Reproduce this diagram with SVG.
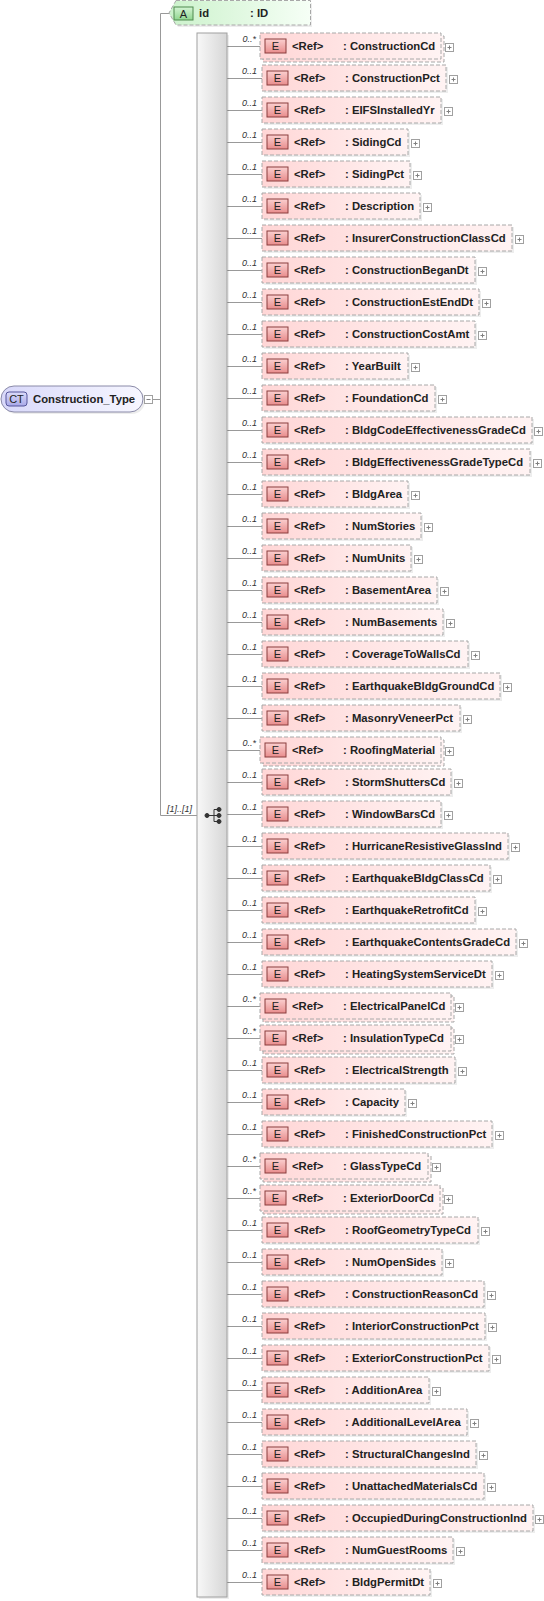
<svg xmlns="http://www.w3.org/2000/svg" xmlns:xlink="http://www.w3.org/1999/xlink" width="544" height="1601" viewBox="0 0 544 1601">
<defs>
<linearGradient id="gEl" x1="0" y1="0" x2="1" y2="0"><stop offset="0" stop-color="#ffd6d6"/><stop offset="1" stop-color="#fff3f3"/></linearGradient>
<linearGradient id="gEi" x1="0" y1="0" x2="0" y2="1"><stop offset="0" stop-color="#fbd0d0"/><stop offset="1" stop-color="#e88c8c"/></linearGradient>
<linearGradient id="gAt" x1="0" y1="0" x2="1" y2="0"><stop offset="0" stop-color="#ccf2cc"/><stop offset="1" stop-color="#f6fff6"/></linearGradient>
<linearGradient id="gAi" x1="0" y1="0" x2="0" y2="1"><stop offset="0" stop-color="#d4f4d4"/><stop offset="1" stop-color="#8fd68f"/></linearGradient>
<linearGradient id="gCt" x1="0" y1="0" x2="1" y2="0"><stop offset="0" stop-color="#d8d8fa"/><stop offset="1" stop-color="#f7f7ff"/></linearGradient>
<linearGradient id="gCi" x1="0" y1="0" x2="0" y2="1"><stop offset="0" stop-color="#dcdcfa"/><stop offset="1" stop-color="#a8a8e8"/></linearGradient>
<linearGradient id="gSeq" x1="0" y1="0" x2="1" y2="0"><stop offset="0" stop-color="#f8f8f8"/><stop offset="1" stop-color="#d6d6d6"/></linearGradient>
<symbol id="plus" viewBox="0 0 9 9" width="9" height="9"><rect x="0.5" y="0.5" width="8" height="8" fill="#fff" stroke="#a0a0a0"/><path d="M2.5 4.5h4M4.5 2.5v4" stroke="#808080" fill="none"/></symbol>
<symbol id="minus" viewBox="0 0 9 9" width="9" height="9"><rect x="0.5" y="0.5" width="8" height="8" fill="#fff" stroke="#a0a0a0"/><path d="M2.5 4.5h4" stroke="#808080" fill="none"/></symbol>
</defs>
<style>
.box{fill:url(#gEl);stroke:#a8a8a8;stroke-width:1;stroke-dasharray:4 2}
.sh{fill:#000;opacity:0.07}
.eic{fill:url(#gEi);stroke:#8a3c3c;stroke-width:1}
.eit{font-family:"Liberation Sans",Arial,sans-serif;font-size:11px;fill:#222;text-anchor:middle}
.t{font-family:"Liberation Sans",Arial,sans-serif;font-size:11.3px;font-weight:bold;fill:#222}
.card{font-family:"Liberation Sans",Arial,sans-serif;font-size:9px;font-style:italic;fill:#333;text-anchor:end}
.ln{stroke:#999;stroke-width:1;fill:none}
</style>

<g id="connectors">
<path class="ln" d="M152.5 399.5H160.5M160.5 13.5V815.5M160.5 13.5H169M160.5 815.5H197"/>
<text class="card" x="192" y="812">[1]..[1]</text>
<path class="ln" d="M227 46.5H260M227 78.5H262M227 110.5H262M227 142.5H262M227 174.5H262M227 206.5H262M227 238.5H262M227 270.5H262M227 302.5H262M227 334.5H262M227 366.5H262M227 398.5H262M227 430.5H262M227 462.5H262M227 494.5H262M227 526.5H262M227 558.5H262M227 590.5H262M227 622.5H262M227 654.5H262M227 686.5H262M227 718.5H262M227 750.5H260M227 782.5H262M227 814.5H262M227 846.5H262M227 878.5H262M227 910.5H262M227 942.5H262M227 974.5H262M227 1006.5H260M227 1038.5H260M227 1070.5H262M227 1102.5H262M227 1134.5H262M227 1166.5H260M227 1198.5H260M227 1230.5H262M227 1262.5H262M227 1294.5H262M227 1326.5H262M227 1358.5H262M227 1390.5H262M227 1422.5H262M227 1454.5H262M227 1486.5H262M227 1518.5H262M227 1550.5H262M227 1582.5H262"/>
<text class="card" x="256" y="42">0..*</text>
<text class="card" x="257" y="74">0..1</text>
<text class="card" x="257" y="106">0..1</text>
<text class="card" x="257" y="138">0..1</text>
<text class="card" x="257" y="170">0..1</text>
<text class="card" x="257" y="202">0..1</text>
<text class="card" x="257" y="234">0..1</text>
<text class="card" x="257" y="266">0..1</text>
<text class="card" x="257" y="298">0..1</text>
<text class="card" x="257" y="330">0..1</text>
<text class="card" x="257" y="362">0..1</text>
<text class="card" x="257" y="394">0..1</text>
<text class="card" x="257" y="426">0..1</text>
<text class="card" x="257" y="458">0..1</text>
<text class="card" x="257" y="490">0..1</text>
<text class="card" x="257" y="522">0..1</text>
<text class="card" x="257" y="554">0..1</text>
<text class="card" x="257" y="586">0..1</text>
<text class="card" x="257" y="618">0..1</text>
<text class="card" x="257" y="650">0..1</text>
<text class="card" x="257" y="682">0..1</text>
<text class="card" x="257" y="714">0..1</text>
<text class="card" x="256" y="746">0..*</text>
<text class="card" x="257" y="778">0..1</text>
<text class="card" x="257" y="810">0..1</text>
<text class="card" x="257" y="842">0..1</text>
<text class="card" x="257" y="874">0..1</text>
<text class="card" x="257" y="906">0..1</text>
<text class="card" x="257" y="938">0..1</text>
<text class="card" x="257" y="970">0..1</text>
<text class="card" x="256" y="1002">0..*</text>
<text class="card" x="256" y="1034">0..*</text>
<text class="card" x="257" y="1066">0..1</text>
<text class="card" x="257" y="1098">0..1</text>
<text class="card" x="257" y="1130">0..1</text>
<text class="card" x="256" y="1162">0..*</text>
<text class="card" x="256" y="1194">0..*</text>
<text class="card" x="257" y="1226">0..1</text>
<text class="card" x="257" y="1258">0..1</text>
<text class="card" x="257" y="1290">0..1</text>
<text class="card" x="257" y="1322">0..1</text>
<text class="card" x="257" y="1354">0..1</text>
<text class="card" x="257" y="1386">0..1</text>
<text class="card" x="257" y="1418">0..1</text>
<text class="card" x="257" y="1450">0..1</text>
<text class="card" x="257" y="1482">0..1</text>
<text class="card" x="257" y="1514">0..1</text>
<text class="card" x="257" y="1546">0..1</text>
<text class="card" x="257" y="1578">0..1</text>
</g>

<g id="Construction_Type">
<rect class="sh" x="3" y="388" width="142" height="26" rx="13"/>
<rect x="1" y="386" width="142" height="26" rx="13" fill="url(#gCt)" stroke="#8a8aa8"/>
<rect x="6" y="392" width="21" height="14" rx="3" fill="url(#gCi)" stroke="#55559a"/>
<text x="16.5" y="403" font-family="Liberation Sans, Arial, sans-serif" font-size="11" fill="#222" text-anchor="middle">CT</text>
<text class="t" x="33" y="403">Construction_Type</text>
<use xlink:href="#minus" href="#minus" x="144" y="395"/>
</g>

<g id="attr-id">
<path class="sh" d="M178 3H312V27H178L171 15Z"/>
<path d="M176 0.5H310.5V25H176L169 13Z" fill="url(#gAt)" stroke="#a8a8a8" stroke-dasharray="4 2"/>
<rect x="174" y="7" width="19" height="13" fill="url(#gAi)" stroke="#4f8a4f"/>
<text x="183.5" y="17.5" font-family="Liberation Sans, Arial, sans-serif" font-size="11" fill="#222" text-anchor="middle">A</text>
<text class="t" x="199" y="17">id</text>
<text class="t" x="250" y="17">: ID</text>
</g>

<g id="sequence">
<rect class="sh" x="199" y="35" width="30" height="1564"/>
<rect x="197" y="33" width="30" height="1564" fill="url(#gSeq)" stroke="#a0a0a0"/>
<g fill="#333" stroke="#333">
<path d="M207 815.5H214M214 809.5V821.5M214 809.5H218M214 815.5H218M214 821.5H218" fill="none"/>
<circle cx="207" cy="815.5" r="2"/>
<circle cx="219" cy="809.5" r="2"/>
<circle cx="219" cy="815.5" r="2"/>
<circle cx="219" cy="821.5" r="2"/>
</g>
</g>

<g id="el-ConstructionCd"><rect class="box" x="263" y="36" width="181" height="26"/><rect class="box" x="260" y="33" width="181" height="26"/><rect class="eic" x="265" y="39" width="21" height="14"/><text class="eit" x="275.5" y="50">E</text><text class="t" x="292" y="50">&lt;Ref&gt;</text><text class="t" x="343" y="50">: ConstructionCd</text><use xlink:href="#plus" href="#plus" x="445" y="43"/></g>
<g id="el-ConstructionPct"><rect class="sh" x="264" y="67" width="184" height="26"/><rect class="box" x="262" y="65" width="184" height="26"/><rect class="eic" x="267" y="71" width="21" height="14"/><text class="eit" x="277.5" y="82">E</text><text class="t" x="294" y="82">&lt;Ref&gt;</text><text class="t" x="345" y="82">: ConstructionPct</text><use xlink:href="#plus" href="#plus" x="449" y="75"/></g>
<g id="el-EIFSInstalledYr"><rect class="sh" x="264" y="99" width="179" height="26"/><rect class="box" x="262" y="97" width="179" height="26"/><rect class="eic" x="267" y="103" width="21" height="14"/><text class="eit" x="277.5" y="114">E</text><text class="t" x="294" y="114">&lt;Ref&gt;</text><text class="t" x="345" y="114">: EIFSInstalledYr</text><use xlink:href="#plus" href="#plus" x="444" y="107"/></g>
<g id="el-SidingCd"><rect class="sh" x="264" y="131" width="146" height="26"/><rect class="box" x="262" y="129" width="146" height="26"/><rect class="eic" x="267" y="135" width="21" height="14"/><text class="eit" x="277.5" y="146">E</text><text class="t" x="294" y="146">&lt;Ref&gt;</text><text class="t" x="345" y="146">: SidingCd</text><use xlink:href="#plus" href="#plus" x="411" y="139"/></g>
<g id="el-SidingPct"><rect class="sh" x="264" y="163" width="148" height="26"/><rect class="box" x="262" y="161" width="148" height="26"/><rect class="eic" x="267" y="167" width="21" height="14"/><text class="eit" x="277.5" y="178">E</text><text class="t" x="294" y="178">&lt;Ref&gt;</text><text class="t" x="345" y="178">: SidingPct</text><use xlink:href="#plus" href="#plus" x="413" y="171"/></g>
<g id="el-Description"><rect class="sh" x="264" y="195" width="158" height="26"/><rect class="box" x="262" y="193" width="158" height="26"/><rect class="eic" x="267" y="199" width="21" height="14"/><text class="eit" x="277.5" y="210">E</text><text class="t" x="294" y="210">&lt;Ref&gt;</text><text class="t" x="345" y="210">: Description</text><use xlink:href="#plus" href="#plus" x="423" y="203"/></g>
<g id="el-InsurerConstructionClassCd"><rect class="sh" x="264" y="227" width="250" height="26"/><rect class="box" x="262" y="225" width="250" height="26"/><rect class="eic" x="267" y="231" width="21" height="14"/><text class="eit" x="277.5" y="242">E</text><text class="t" x="294" y="242">&lt;Ref&gt;</text><text class="t" x="345" y="242">: InsurerConstructionClassCd</text><use xlink:href="#plus" href="#plus" x="515" y="235"/></g>
<g id="el-ConstructionBeganDt"><rect class="sh" x="264" y="259" width="213" height="26"/><rect class="box" x="262" y="257" width="213" height="26"/><rect class="eic" x="267" y="263" width="21" height="14"/><text class="eit" x="277.5" y="274">E</text><text class="t" x="294" y="274">&lt;Ref&gt;</text><text class="t" x="345" y="274">: ConstructionBeganDt</text><use xlink:href="#plus" href="#plus" x="478" y="267"/></g>
<g id="el-ConstructionEstEndDt"><rect class="sh" x="264" y="291" width="217" height="26"/><rect class="box" x="262" y="289" width="217" height="26"/><rect class="eic" x="267" y="295" width="21" height="14"/><text class="eit" x="277.5" y="306">E</text><text class="t" x="294" y="306">&lt;Ref&gt;</text><text class="t" x="345" y="306">: ConstructionEstEndDt</text><use xlink:href="#plus" href="#plus" x="482" y="299"/></g>
<g id="el-ConstructionCostAmt"><rect class="sh" x="264" y="323" width="213" height="26"/><rect class="box" x="262" y="321" width="213" height="26"/><rect class="eic" x="267" y="327" width="21" height="14"/><text class="eit" x="277.5" y="338">E</text><text class="t" x="294" y="338">&lt;Ref&gt;</text><text class="t" x="345" y="338">: ConstructionCostAmt</text><use xlink:href="#plus" href="#plus" x="478" y="331"/></g>
<g id="el-YearBuilt"><rect class="sh" x="264" y="355" width="146" height="26"/><rect class="box" x="262" y="353" width="146" height="26"/><rect class="eic" x="267" y="359" width="21" height="14"/><text class="eit" x="277.5" y="370">E</text><text class="t" x="294" y="370">&lt;Ref&gt;</text><text class="t" x="345" y="370">: YearBuilt</text><use xlink:href="#plus" href="#plus" x="411" y="363"/></g>
<g id="el-FoundationCd"><rect class="sh" x="264" y="387" width="173" height="26"/><rect class="box" x="262" y="385" width="173" height="26"/><rect class="eic" x="267" y="391" width="21" height="14"/><text class="eit" x="277.5" y="402">E</text><text class="t" x="294" y="402">&lt;Ref&gt;</text><text class="t" x="345" y="402">: FoundationCd</text><use xlink:href="#plus" href="#plus" x="438" y="395"/></g>
<g id="el-BldgCodeEffectivenessGradeCd"><rect class="sh" x="264" y="419" width="270" height="26"/><rect class="box" x="262" y="417" width="270" height="26"/><rect class="eic" x="267" y="423" width="21" height="14"/><text class="eit" x="277.5" y="434">E</text><text class="t" x="294" y="434">&lt;Ref&gt;</text><text class="t" x="345" y="434">: BldgCodeEffectivenessGradeCd</text><use xlink:href="#plus" href="#plus" x="534" y="427"/></g>
<g id="el-BldgEffectivenessGradeTypeCd"><rect class="sh" x="264" y="451" width="268" height="26"/><rect class="box" x="262" y="449" width="268" height="26"/><rect class="eic" x="267" y="455" width="21" height="14"/><text class="eit" x="277.5" y="466">E</text><text class="t" x="294" y="466">&lt;Ref&gt;</text><text class="t" x="345" y="466">: BldgEffectivenessGradeTypeCd</text><use xlink:href="#plus" href="#plus" x="533" y="459"/></g>
<g id="el-BldgArea"><rect class="sh" x="264" y="483" width="146" height="26"/><rect class="box" x="262" y="481" width="146" height="26"/><rect class="eic" x="267" y="487" width="21" height="14"/><text class="eit" x="277.5" y="498">E</text><text class="t" x="294" y="498">&lt;Ref&gt;</text><text class="t" x="345" y="498">: BldgArea</text><use xlink:href="#plus" href="#plus" x="411" y="491"/></g>
<g id="el-NumStories"><rect class="sh" x="264" y="515" width="159" height="26"/><rect class="box" x="262" y="513" width="159" height="26"/><rect class="eic" x="267" y="519" width="21" height="14"/><text class="eit" x="277.5" y="530">E</text><text class="t" x="294" y="530">&lt;Ref&gt;</text><text class="t" x="345" y="530">: NumStories</text><use xlink:href="#plus" href="#plus" x="424" y="523"/></g>
<g id="el-NumUnits"><rect class="sh" x="264" y="547" width="149" height="26"/><rect class="box" x="262" y="545" width="149" height="26"/><rect class="eic" x="267" y="551" width="21" height="14"/><text class="eit" x="277.5" y="562">E</text><text class="t" x="294" y="562">&lt;Ref&gt;</text><text class="t" x="345" y="562">: NumUnits</text><use xlink:href="#plus" href="#plus" x="414" y="555"/></g>
<g id="el-BasementArea"><rect class="sh" x="264" y="579" width="175" height="26"/><rect class="box" x="262" y="577" width="175" height="26"/><rect class="eic" x="267" y="583" width="21" height="14"/><text class="eit" x="277.5" y="594">E</text><text class="t" x="294" y="594">&lt;Ref&gt;</text><text class="t" x="345" y="594">: BasementArea</text><use xlink:href="#plus" href="#plus" x="440" y="587"/></g>
<g id="el-NumBasements"><rect class="sh" x="264" y="611" width="181" height="26"/><rect class="box" x="262" y="609" width="181" height="26"/><rect class="eic" x="267" y="615" width="21" height="14"/><text class="eit" x="277.5" y="626">E</text><text class="t" x="294" y="626">&lt;Ref&gt;</text><text class="t" x="345" y="626">: NumBasements</text><use xlink:href="#plus" href="#plus" x="446" y="619"/></g>
<g id="el-CoverageToWallsCd"><rect class="sh" x="264" y="643" width="206" height="26"/><rect class="box" x="262" y="641" width="206" height="26"/><rect class="eic" x="267" y="647" width="21" height="14"/><text class="eit" x="277.5" y="658">E</text><text class="t" x="294" y="658">&lt;Ref&gt;</text><text class="t" x="345" y="658">: CoverageToWallsCd</text><use xlink:href="#plus" href="#plus" x="471" y="651"/></g>
<g id="el-EarthquakeBldgGroundCd"><rect class="sh" x="264" y="675" width="238" height="26"/><rect class="box" x="262" y="673" width="238" height="26"/><rect class="eic" x="267" y="679" width="21" height="14"/><text class="eit" x="277.5" y="690">E</text><text class="t" x="294" y="690">&lt;Ref&gt;</text><text class="t" x="345" y="690">: EarthquakeBldgGroundCd</text><use xlink:href="#plus" href="#plus" x="503" y="683"/></g>
<g id="el-MasonryVeneerPct"><rect class="sh" x="264" y="707" width="198" height="26"/><rect class="box" x="262" y="705" width="198" height="26"/><rect class="eic" x="267" y="711" width="21" height="14"/><text class="eit" x="277.5" y="722">E</text><text class="t" x="294" y="722">&lt;Ref&gt;</text><text class="t" x="345" y="722">: MasonryVeneerPct</text><use xlink:href="#plus" href="#plus" x="463" y="715"/></g>
<g id="el-RoofingMaterial"><rect class="box" x="263" y="740" width="181" height="26"/><rect class="box" x="260" y="737" width="181" height="26"/><rect class="eic" x="265" y="743" width="21" height="14"/><text class="eit" x="275.5" y="754">E</text><text class="t" x="292" y="754">&lt;Ref&gt;</text><text class="t" x="343" y="754">: RoofingMaterial</text><use xlink:href="#plus" href="#plus" x="445" y="747"/></g>
<g id="el-StormShuttersCd"><rect class="sh" x="264" y="771" width="189" height="26"/><rect class="box" x="262" y="769" width="189" height="26"/><rect class="eic" x="267" y="775" width="21" height="14"/><text class="eit" x="277.5" y="786">E</text><text class="t" x="294" y="786">&lt;Ref&gt;</text><text class="t" x="345" y="786">: StormShuttersCd</text><use xlink:href="#plus" href="#plus" x="454" y="779"/></g>
<g id="el-WindowBarsCd"><rect class="sh" x="264" y="803" width="179" height="26"/><rect class="box" x="262" y="801" width="179" height="26"/><rect class="eic" x="267" y="807" width="21" height="14"/><text class="eit" x="277.5" y="818">E</text><text class="t" x="294" y="818">&lt;Ref&gt;</text><text class="t" x="345" y="818">: WindowBarsCd</text><use xlink:href="#plus" href="#plus" x="444" y="811"/></g>
<g id="el-HurricaneResistiveGlassInd"><rect class="sh" x="264" y="835" width="246" height="26"/><rect class="box" x="262" y="833" width="246" height="26"/><rect class="eic" x="267" y="839" width="21" height="14"/><text class="eit" x="277.5" y="850">E</text><text class="t" x="294" y="850">&lt;Ref&gt;</text><text class="t" x="345" y="850">: HurricaneResistiveGlassInd</text><use xlink:href="#plus" href="#plus" x="511" y="843"/></g>
<g id="el-EarthquakeBldgClassCd"><rect class="sh" x="264" y="867" width="228" height="26"/><rect class="box" x="262" y="865" width="228" height="26"/><rect class="eic" x="267" y="871" width="21" height="14"/><text class="eit" x="277.5" y="882">E</text><text class="t" x="294" y="882">&lt;Ref&gt;</text><text class="t" x="345" y="882">: EarthquakeBldgClassCd</text><use xlink:href="#plus" href="#plus" x="493" y="875"/></g>
<g id="el-EarthquakeRetrofitCd"><rect class="sh" x="264" y="899" width="213" height="26"/><rect class="box" x="262" y="897" width="213" height="26"/><rect class="eic" x="267" y="903" width="21" height="14"/><text class="eit" x="277.5" y="914">E</text><text class="t" x="294" y="914">&lt;Ref&gt;</text><text class="t" x="345" y="914">: EarthquakeRetrofitCd</text><use xlink:href="#plus" href="#plus" x="478" y="907"/></g>
<g id="el-EarthquakeContentsGradeCd"><rect class="sh" x="264" y="931" width="254" height="26"/><rect class="box" x="262" y="929" width="254" height="26"/><rect class="eic" x="267" y="935" width="21" height="14"/><text class="eit" x="277.5" y="946">E</text><text class="t" x="294" y="946">&lt;Ref&gt;</text><text class="t" x="345" y="946">: EarthquakeContentsGradeCd</text><use xlink:href="#plus" href="#plus" x="519" y="939"/></g>
<g id="el-HeatingSystemServiceDt"><rect class="sh" x="264" y="963" width="230" height="26"/><rect class="box" x="262" y="961" width="230" height="26"/><rect class="eic" x="267" y="967" width="21" height="14"/><text class="eit" x="277.5" y="978">E</text><text class="t" x="294" y="978">&lt;Ref&gt;</text><text class="t" x="345" y="978">: HeatingSystemServiceDt</text><use xlink:href="#plus" href="#plus" x="495" y="971"/></g>
<g id="el-ElectricalPanelCd"><rect class="box" x="263" y="996" width="191" height="26"/><rect class="box" x="260" y="993" width="191" height="26"/><rect class="eic" x="265" y="999" width="21" height="14"/><text class="eit" x="275.5" y="1010">E</text><text class="t" x="292" y="1010">&lt;Ref&gt;</text><text class="t" x="343" y="1010">: ElectricalPanelCd</text><use xlink:href="#plus" href="#plus" x="455" y="1003"/></g>
<g id="el-InsulationTypeCd"><rect class="box" x="263" y="1028" width="191" height="26"/><rect class="box" x="260" y="1025" width="191" height="26"/><rect class="eic" x="265" y="1031" width="21" height="14"/><text class="eit" x="275.5" y="1042">E</text><text class="t" x="292" y="1042">&lt;Ref&gt;</text><text class="t" x="343" y="1042">: InsulationTypeCd</text><use xlink:href="#plus" href="#plus" x="455" y="1035"/></g>
<g id="el-ElectricalStrength"><rect class="sh" x="264" y="1059" width="193" height="26"/><rect class="box" x="262" y="1057" width="193" height="26"/><rect class="eic" x="267" y="1063" width="21" height="14"/><text class="eit" x="277.5" y="1074">E</text><text class="t" x="294" y="1074">&lt;Ref&gt;</text><text class="t" x="345" y="1074">: ElectricalStrength</text><use xlink:href="#plus" href="#plus" x="458" y="1067"/></g>
<g id="el-Capacity"><rect class="sh" x="264" y="1091" width="143" height="26"/><rect class="box" x="262" y="1089" width="143" height="26"/><rect class="eic" x="267" y="1095" width="21" height="14"/><text class="eit" x="277.5" y="1106">E</text><text class="t" x="294" y="1106">&lt;Ref&gt;</text><text class="t" x="345" y="1106">: Capacity</text><use xlink:href="#plus" href="#plus" x="408" y="1099"/></g>
<g id="el-FinishedConstructionPct"><rect class="sh" x="264" y="1123" width="230" height="26"/><rect class="box" x="262" y="1121" width="230" height="26"/><rect class="eic" x="267" y="1127" width="21" height="14"/><text class="eit" x="277.5" y="1138">E</text><text class="t" x="294" y="1138">&lt;Ref&gt;</text><text class="t" x="345" y="1138">: FinishedConstructionPct</text><use xlink:href="#plus" href="#plus" x="495" y="1131"/></g>
<g id="el-GlassTypeCd"><rect class="box" x="263" y="1156" width="168" height="26"/><rect class="box" x="260" y="1153" width="168" height="26"/><rect class="eic" x="265" y="1159" width="21" height="14"/><text class="eit" x="275.5" y="1170">E</text><text class="t" x="292" y="1170">&lt;Ref&gt;</text><text class="t" x="343" y="1170">: GlassTypeCd</text><use xlink:href="#plus" href="#plus" x="432" y="1163"/></g>
<g id="el-ExteriorDoorCd"><rect class="box" x="263" y="1188" width="180" height="26"/><rect class="box" x="260" y="1185" width="180" height="26"/><rect class="eic" x="265" y="1191" width="21" height="14"/><text class="eit" x="275.5" y="1202">E</text><text class="t" x="292" y="1202">&lt;Ref&gt;</text><text class="t" x="343" y="1202">: ExteriorDoorCd</text><use xlink:href="#plus" href="#plus" x="444" y="1195"/></g>
<g id="el-RoofGeometryTypeCd"><rect class="sh" x="264" y="1219" width="216" height="26"/><rect class="box" x="262" y="1217" width="216" height="26"/><rect class="eic" x="267" y="1223" width="21" height="14"/><text class="eit" x="277.5" y="1234">E</text><text class="t" x="294" y="1234">&lt;Ref&gt;</text><text class="t" x="345" y="1234">: RoofGeometryTypeCd</text><use xlink:href="#plus" href="#plus" x="481" y="1227"/></g>
<g id="el-NumOpenSides"><rect class="sh" x="264" y="1251" width="180" height="26"/><rect class="box" x="262" y="1249" width="180" height="26"/><rect class="eic" x="267" y="1255" width="21" height="14"/><text class="eit" x="277.5" y="1266">E</text><text class="t" x="294" y="1266">&lt;Ref&gt;</text><text class="t" x="345" y="1266">: NumOpenSides</text><use xlink:href="#plus" href="#plus" x="445" y="1259"/></g>
<g id="el-ConstructionReasonCd"><rect class="sh" x="264" y="1283" width="222" height="26"/><rect class="box" x="262" y="1281" width="222" height="26"/><rect class="eic" x="267" y="1287" width="21" height="14"/><text class="eit" x="277.5" y="1298">E</text><text class="t" x="294" y="1298">&lt;Ref&gt;</text><text class="t" x="345" y="1298">: ConstructionReasonCd</text><use xlink:href="#plus" href="#plus" x="487" y="1291"/></g>
<g id="el-InteriorConstructionPct"><rect class="sh" x="264" y="1315" width="223" height="26"/><rect class="box" x="262" y="1313" width="223" height="26"/><rect class="eic" x="267" y="1319" width="21" height="14"/><text class="eit" x="277.5" y="1330">E</text><text class="t" x="294" y="1330">&lt;Ref&gt;</text><text class="t" x="345" y="1330">: InteriorConstructionPct</text><use xlink:href="#plus" href="#plus" x="488" y="1323"/></g>
<g id="el-ExteriorConstructionPct"><rect class="sh" x="264" y="1347" width="227" height="26"/><rect class="box" x="262" y="1345" width="227" height="26"/><rect class="eic" x="267" y="1351" width="21" height="14"/><text class="eit" x="277.5" y="1362">E</text><text class="t" x="294" y="1362">&lt;Ref&gt;</text><text class="t" x="345" y="1362">: ExteriorConstructionPct</text><use xlink:href="#plus" href="#plus" x="492" y="1355"/></g>
<g id="el-AdditionArea"><rect class="sh" x="264" y="1379" width="167" height="26"/><rect class="box" x="262" y="1377" width="167" height="26"/><rect class="eic" x="267" y="1383" width="21" height="14"/><text class="eit" x="277.5" y="1394">E</text><text class="t" x="294" y="1394">&lt;Ref&gt;</text><text class="t" x="345" y="1394">: AdditionArea</text><use xlink:href="#plus" href="#plus" x="432" y="1387"/></g>
<g id="el-AdditionalLevelArea"><rect class="sh" x="264" y="1411" width="205" height="26"/><rect class="box" x="262" y="1409" width="205" height="26"/><rect class="eic" x="267" y="1415" width="21" height="14"/><text class="eit" x="277.5" y="1426">E</text><text class="t" x="294" y="1426">&lt;Ref&gt;</text><text class="t" x="345" y="1426">: AdditionalLevelArea</text><use xlink:href="#plus" href="#plus" x="470" y="1419"/></g>
<g id="el-StructuralChangesInd"><rect class="sh" x="264" y="1443" width="214" height="26"/><rect class="box" x="262" y="1441" width="214" height="26"/><rect class="eic" x="267" y="1447" width="21" height="14"/><text class="eit" x="277.5" y="1458">E</text><text class="t" x="294" y="1458">&lt;Ref&gt;</text><text class="t" x="345" y="1458">: StructuralChangesInd</text><use xlink:href="#plus" href="#plus" x="479" y="1451"/></g>
<g id="el-UnattachedMaterialsCd"><rect class="sh" x="264" y="1475" width="222" height="26"/><rect class="box" x="262" y="1473" width="222" height="26"/><rect class="eic" x="267" y="1479" width="21" height="14"/><text class="eit" x="277.5" y="1490">E</text><text class="t" x="294" y="1490">&lt;Ref&gt;</text><text class="t" x="345" y="1490">: UnattachedMaterialsCd</text><use xlink:href="#plus" href="#plus" x="487" y="1483"/></g>
<g id="el-OccupiedDuringConstructionInd"><rect class="sh" x="264" y="1507" width="271" height="26"/><rect class="box" x="262" y="1505" width="271" height="26"/><rect class="eic" x="267" y="1511" width="21" height="14"/><text class="eit" x="277.5" y="1522">E</text><text class="t" x="294" y="1522">&lt;Ref&gt;</text><text class="t" x="345" y="1522">: OccupiedDuringConstructionInd</text><use xlink:href="#plus" href="#plus" x="535" y="1515"/></g>
<g id="el-NumGuestRooms"><rect class="sh" x="264" y="1539" width="191" height="26"/><rect class="box" x="262" y="1537" width="191" height="26"/><rect class="eic" x="267" y="1543" width="21" height="14"/><text class="eit" x="277.5" y="1554">E</text><text class="t" x="294" y="1554">&lt;Ref&gt;</text><text class="t" x="345" y="1554">: NumGuestRooms</text><use xlink:href="#plus" href="#plus" x="456" y="1547"/></g>
<g id="el-BldgPermitDt"><rect class="sh" x="264" y="1571" width="168" height="26"/><rect class="box" x="262" y="1569" width="168" height="26"/><rect class="eic" x="267" y="1575" width="21" height="14"/><text class="eit" x="277.5" y="1586">E</text><text class="t" x="294" y="1586">&lt;Ref&gt;</text><text class="t" x="345" y="1586">: BldgPermitDt</text><use xlink:href="#plus" href="#plus" x="433" y="1579"/></g>
</svg>
